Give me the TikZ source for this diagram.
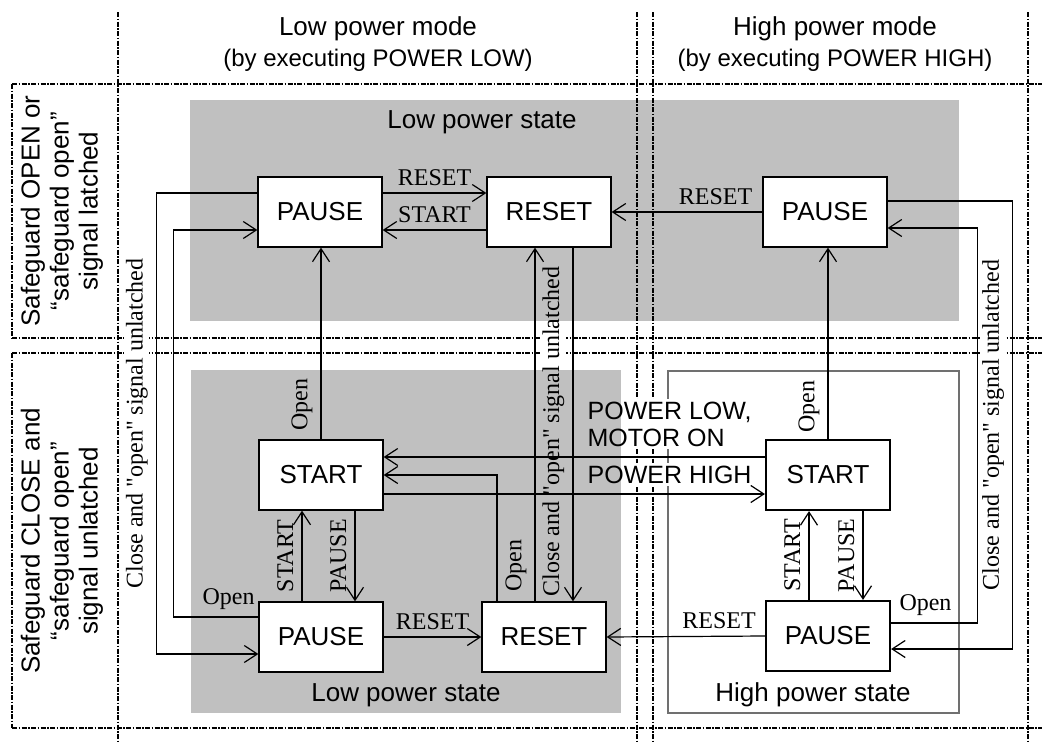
\documentclass[tikz,border=0pt]{standalone}
\usepackage{fontspec}
\setmainfont{Liberation Sans}
\newfontfamily\tnr{Liberation Serif}
\usetikzlibrary{arrows.meta,positioning,calc}
\definecolor{StateGray}{HTML}{C0C0C0}
\definecolor{StateEdge}{HTML}{707070}
\pgfdeclarelayer{shade}
\pgfdeclarelayer{grid}
\pgfdeclarelayer{mask}
\pgfsetlayers{shade,grid,mask,main}

\begin{document}
\begin{tikzpicture}[x=1pt,y=-1pt,
    box/.style={draw,line width=1.3pt,fill=white,minimum width=124pt,minimum height=70pt,inner sep=0pt,font=\fontsize{26}{30}\selectfont},
    hbox/.style={box,line width=2.2pt},
    tr/.style={line width=1.2pt,-{Straight Barb[length=13pt,width=17pt]}},
    lbl/.style={font=\tnr\fontsize{24}{28}\selectfont,inner sep=1pt},
    hlbl/.style={lbl,above=6pt},
    vlbl/.style={lbl,xshift=-7pt,rotate=90,anchor=south},
    cmd/.style={align=left,inner sep=2pt,font=\fontsize{25}{27}\selectfont},
    head/.style={align=center,font=\fontsize{26}{31}\selectfont},
    rowlbl/.style={align=center,rotate=90,font=\fontsize{26}{29}\selectfont},
    area/.style={font=\fontsize{26}{30}\selectfont},
    sepline/.style={line width=1.8pt,dash pattern=on 5pt off 1.5pt on 1.5pt off 1.5pt}
  ]
  \useasboundingbox (0,0) rectangle (1042,742);

  % shaded state areas
  \begin{pgfonlayer}{shade}
    \fill[StateGray] (190,100) coordinate (tg1) rectangle (959,321) coordinate (tg2);
    \fill[StateGray] (191,370) coordinate (bg1) rectangle (621,713) coordinate (bg2);
  \end{pgfonlayer}

  % table lines
  \begin{pgfonlayer}{grid}
    \foreach \x in {118,637,653,1028}
      \draw[sepline] (\x,12) -- (\x,742);
    \foreach \y in {84,338,353,728}
      \draw[sepline] (12,\y) -- (1042,\y);
    \draw[sepline] (12,84) -- (12,338) (12,353) -- (12,728);
    \draw[StateEdge,line width=1.3pt] (668,371) rectangle (959,713);
  \end{pgfonlayer}

  % headers
  \node[head] (lowmode) at (378,44) {Low power mode\\{\fontsize{24}{29}\selectfont (by executing POWER LOW)}};
  \node[head] (highmode) at (835,44) {High power mode\\{\fontsize{24}{29}\selectfont (by executing POWER HIGH)}};
  \node[rowlbl] (rowopen) at (62,211) {Safeguard OPEN or\\“safeguard open”\\signal latched};
  \node[rowlbl] (rowclose) at (62,541) {Safeguard CLOSE and\\“safeguard open”\\signal unlatched};
  \node[area] (lowtop) at (482,122) {Low power state};
  \node[area] (lowbot) at (406,695) {Low power state};
  \node[area] (highbot) at (813,695) {High power state};

  % states
  \node[box] (pauseTL) at (320,212) {PAUSE};
  \node[box] (resetTL) at (549,212) {RESET};
  \node[box] (pauseTR) at (825,212) {PAUSE};
  \node[box] (startL) at (321,475) {START};
  \node[box] (pauseL) at (321,637) {PAUSE};
  \node[box] (resetL) at (544,637) {RESET};
  \node[hbox] (startR) at (828,475) {START};
  \node[hbox] (pauseR) at (828,636) {PAUSE};

  % transitions
  \draw[tr] ([yshift=19pt]pauseTL.east) -- node[hlbl]{RESET} ([yshift=19pt]pauseTL.east -| resetTL.west);
  \draw[tr] ([yshift=-18pt]resetTL.west) -- node[hlbl]{START} ([yshift=-18pt]resetTL.west -| pauseTL.east);
  \draw[tr] (pauseTR.west) -- node[hlbl,pos=0.31]{RESET} (resetTL.east);
  \draw[tr] (startL.north) -- node[vlbl,pos=0.18]{Open} (startL.north |- pauseTL.south);
  \draw[tr] (startR.north) -- node[vlbl,pos=0.17]{Open} (startR.north |- pauseTR.south);
  \draw[tr] ([xshift=-9pt]resetL.north) -- node[vlbl,pos=0.1]{Open} ([xshift=-9pt]resetL.north |- resetTL.south);
  \draw[tr] ([xshift=24pt]resetTL.south) -- node[vlbl,pos=0.52] (closeM) {Close and "open" signal unlatched} ([xshift=24pt]resetTL.south |- resetL.north);
  \draw[tr] ([xshift=-47pt]resetL.north) |- (startL.east);
  \draw[tr] ([xshift=-19pt]pauseL.north) -- node[vlbl]{START} ([xshift=-19pt]startL.south);
  \draw[tr] ([xshift=34pt]startL.south) -- node[vlbl]{PAUSE} ([xshift=34pt]pauseL.north);
  \draw[tr] ([xshift=-19pt]pauseR.north) -- node[vlbl]{START} ([xshift=-19pt]startR.south);
  \draw[tr] ([xshift=35pt]startR.south) -- node[vlbl]{PAUSE} ([xshift=35pt]pauseR.north);
  \draw[tr] (pauseL.east) -- node[hlbl]{RESET} (resetL.west);
  \draw[tr] (pauseR.west) -- node[hlbl,pos=0.29]{RESET} (resetL.east);
  \draw[tr] ([yshift=18pt]startR.west) -- node[cmd,pos=0.25,above=8pt] (pwrlow) {POWER LOW,\\MOTOR ON} ([yshift=18pt]startR.west -| startL.east);
  \draw[tr] ([yshift=-19pt]startL.east) -- node[cmd,pos=0.75,above=8pt] (pwrhigh) {POWER HIGH} ([yshift=-19pt]startL.east -| startR.west);

  % safeguard loops
  \draw[tr] ([yshift=19pt]pauseTL.west) -- ++(-101,0) |- node[vlbl,pos=0.25] (closeL) {Close and "open" signal unlatched} ([yshift=-17pt]pauseL.west);
  \draw[tr] ([yshift=20pt]pauseL.west) -- node[hlbl,pos=0.35]{Open} ++(-85,0) |- ([yshift=-18pt]pauseTL.west);
  \draw[tr] ([yshift=11pt]pauseTR.east) -- ++(125,0) |- node[vlbl,pos=0.25] (closeR) {Close and "open" signal unlatched} ([yshift=-13pt]pauseR.east);
  \draw[tr] ([yshift=13pt]pauseR.east) -- node[hlbl,pos=0.4]{Open} ++(86,0) |- ([yshift=-16pt]pauseTR.east);

  % keep the table lines clear of labels
  \begin{pgfonlayer}{mask}
    \fill[white] (closeL.north west) rectangle (closeL.south east);
    \fill[white] (closeR.north west) rectangle (closeR.south east);
    \fill[white] (closeM.north west |- tg2) rectangle (closeM.south east |- bg1);
    \fill[white] (pwrlow.north west -| bg2) rectangle (pwrlow.south east);
    \fill[white] (pwrhigh.north west -| bg2) rectangle (pwrhigh.south east);
  \end{pgfonlayer}
\end{tikzpicture}
\end{document}
